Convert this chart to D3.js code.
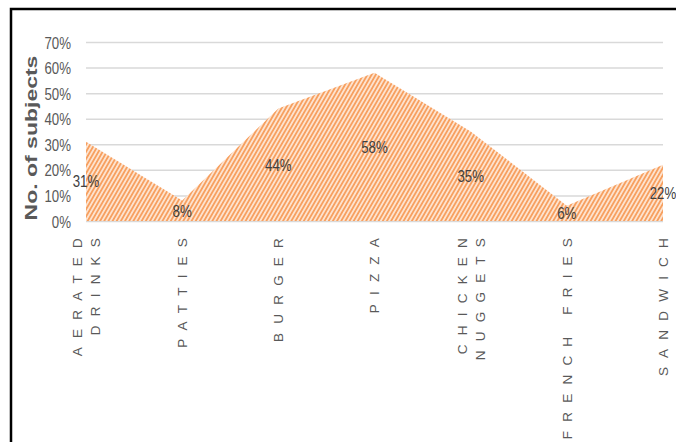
<!DOCTYPE html>
<html>
<head>
<meta charset="utf-8">
<script src="https://cdn.jsdelivr.net/npm/d3@7"></script>
<style>
  body { margin: 0; background: #fff; }
  text { font-family: "Liberation Sans", Arial, sans-serif; }
</style>
</head>
<body>
<div id="chart"></div>
<script>
// Chart data
var categories = ["AERATED DRINKS", "PATTIES", "BURGER", "PIZZA", "CHICKEN NUGGETS", "FRENCH FRIES", "SANDWICH"];
var labelLines = [["AERATED", "DRINKS"], ["PATTIES"], ["BURGER"], ["PIZZA"], ["CHICKEN", "NUGGETS"], ["FRENCH FRIES"], ["SANDWICH"]];
var values = [31, 8, 44, 58, 35, 6, 22];
var yTicks = [0, 10, 20, 30, 40, 50, 60, 70];

var svgWidth = 676;
var svgHeight = 442;

var margin = { top: 42, right: 13, bottom: 221, left: 86 };
var width = svgWidth - margin.left - margin.right;
var height = svgHeight - margin.top - margin.bottom;

var svg = d3.select("#chart")
  .append("svg")
  .attr("width", svgWidth)
  .attr("height", svgHeight);

// hatch pattern for the area
var defs = svg.append("defs");
var pat = defs.append("pattern")
  .attr("id", "hatch")
  .attr("patternUnits", "userSpaceOnUse")
  .attr("width", 3.6)
  .attr("height", 3.6)
  .attr("patternTransform", "rotate(30)");
pat.append("rect").attr("width", 3.6).attr("height", 3.6).attr("fill", "#fde3cf");
pat.append("line")
  .attr("x1", 0.9).attr("y1", 0).attr("x2", 0.9).attr("y2", 3.6)
  .attr("stroke", "#f7a060").attr("stroke-width", 1.8);

// frame
svg.append("path")
  .attr("d", "M11,442 L11,9 L676,9")
  .attr("fill", "none")
  .attr("stroke", "#000")
  .attr("stroke-width", 2.5);

var chartGroup = svg.append("g")
  .attr("transform", `translate(${margin.left}, ${margin.top})`);

var xScale = d3.scalePoint()
  .domain(categories)
  .range([0, width]);

var yScale = d3.scaleLinear()
  .domain([0, 70])
  .range([height, 0]);

// gridlines
chartGroup.append("g")
  .call(d3.axisLeft(yScale).tickValues(yTicks).tickSize(-width).tickFormat(""))
  .call(g => g.select(".domain").remove())
  .call(g => g.selectAll("line").attr("stroke", "#d9d9d9").attr("stroke-width", 1.5));

// y axis labels
chartGroup.append("g")
  .call(d3.axisLeft(yScale).tickValues(yTicks).tickSize(0).tickFormat(d => d + "%"))
  .call(g => g.select(".domain").remove())
  .call(g => g.selectAll("text")
    .attr("x", 0)
    .attr("dy", "0.36em")
    .attr("transform", "translate(-15,0) scale(0.78,1)")
    .attr("fill", "#595959")
    .style("font-size", "17px")
    .style("font-family", "'Liberation Sans', Arial, sans-serif"));

// area
var area = d3.area()
  .x((d, i) => xScale(categories[i]))
  .y0(height)
  .y1(d => yScale(d));

chartGroup.append("path")
  .datum(values)
  .attr("d", area)
  .attr("fill", "url(#hatch)");

// data labels, in the middle of the area
chartGroup.selectAll(".dataLabel")
  .data(values)
  .enter()
  .append("text")
  .attr("class", "dataLabel")
  .attr("transform", (d, i) => `translate(${xScale(categories[i])}, ${(yScale(d) + height) / 2}) scale(0.78,1)`)
  .attr("text-anchor", "middle")
  .attr("dy", "0.36em")
  .attr("fill", "#404040")
  .style("font-size", "17px")
  .text(d => d + "%");

// x axis labels
var xLabels = chartGroup.selectAll(".xLabel")
  .data(categories)
  .enter()
  .append("text")
  .attr("class", "xLabel")
  .attr("transform", (d, i) => {
    var n = labelLines[i].length;
    var x = xScale(d) - (n - 1) * 9;
    return `translate(${x}, ${height + 8}) rotate(-90)`;
  })
  .attr("text-anchor", "end")
  .attr("fill", "#595959")
  .style("font-size", "13.5px")
  .style("letter-spacing", "9.2px");

xLabels.each(function(d, i) {
  var t = d3.select(this);
  labelLines[i].forEach(function(line, j) {
    t.append("tspan")
      .attr("x", 0)
      .attr("y", j * 18)
      .attr("dy", "0.36em")
      .text(line);
  });
});

// y axis title
svg.append("text")
  .attr("transform", "translate(31, 138) rotate(-90) scale(1,0.7)")
  .attr("text-anchor", "middle")
  .attr("dy", "0.36em")
  .attr("fill", "#595959")
  .style("font-size", "23px")
  .style("font-weight", "bold")
  .text("No. of subjects");
</script>
</body>
</html>
